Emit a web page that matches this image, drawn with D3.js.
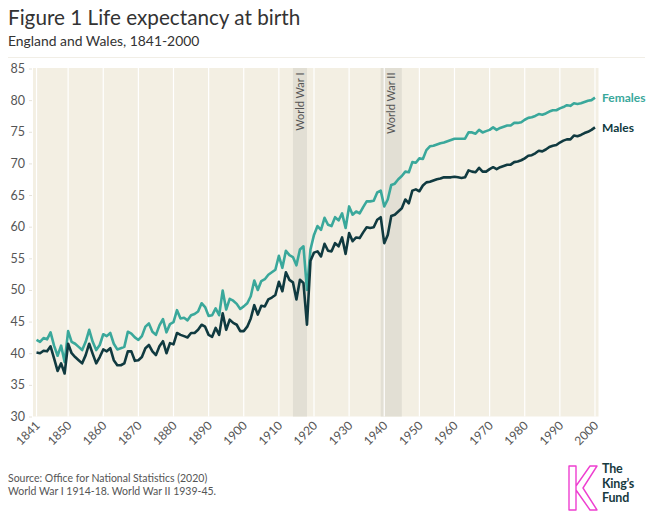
<!DOCTYPE html>
<html>
<head>
<meta charset="utf-8">
<script src="https://cdn.jsdelivr.net/npm/d3@7"></script>
<style>
  body { margin: 0; background: #fff; }
  svg text { font-family: Lato, "Open Sans", sans-serif; }
</style>
</head>
<body>
<div id="chart"></div>
<script>
// years 1841..2000, one value per year
var years = d3.range(1841, 2001);

var females = [
  42.1, 41.8, 42.4, 42.2, 43.3, 41.2, 39.6, 41.2, 38.6, 43.5,
  41.8, 41.5, 41.0, 40.5, 41.8, 43.7, 41.8, 40.5, 41.3, 43.0,
  42.7, 43.2, 41.5, 40.6, 40.8, 41.0, 43.4, 43.1, 42.5, 42.1,
  42.7, 44.2, 44.7, 43.4, 42.9, 44.4, 45.4, 43.3, 44.6, 44.9,
  46.8, 45.5, 45.6, 45.2, 46.0, 46.2, 46.6, 47.9, 47.3, 45.9,
  46.0, 47.1, 46.0, 49.9, 46.9, 48.6, 48.3, 47.8, 47.0, 47.4,
  47.9, 49.0, 51.5, 50.0, 51.4, 51.7, 52.4, 52.8, 53.2, 55.4,
  53.5, 56.2, 55.5, 55.2, 53.9, 56.4, 56.9, 50.0, 56.4, 58.7,
  60.1, 59.5, 61.4, 60.3, 60.1, 61.5, 61.0, 62.1, 59.8, 63.2,
  61.9, 62.4, 62.1, 63.1, 64.0, 64.0, 64.1, 65.4, 65.7, 63.2,
  64.3, 66.6, 66.8, 67.5, 68.0, 68.7, 68.6, 70.2, 70.1, 70.8,
  70.7, 72.1, 72.7, 72.8, 73.0, 73.2, 73.3, 73.5, 73.7, 73.9,
  73.9, 73.9, 73.9, 74.9, 74.9, 74.7, 75.3, 74.9, 75.1, 75.3,
  75.7, 75.3, 75.6, 75.8, 76.0, 76.0, 76.4, 76.4, 76.5, 76.9,
  77.2, 77.3, 77.5, 77.8, 77.7, 77.9, 78.2, 78.4, 78.4, 78.7,
  78.9, 79.2, 79.1, 79.5, 79.4, 79.5, 79.7, 79.9, 80.0, 80.4
];

var males = [
  40.1, 40.0, 40.4, 40.3, 41.1, 39.2, 37.2, 38.4, 36.8, 41.5,
  40.0, 39.4, 38.9, 38.4, 39.7, 41.5, 39.9, 38.4, 39.4, 40.6,
  40.3, 40.8, 38.9, 38.1, 38.1, 38.4, 40.3, 40.3, 38.8, 38.9,
  39.4, 40.8, 41.3, 40.3, 39.7, 41.1, 41.9, 40.0, 41.6, 41.4,
  43.2, 42.9, 42.7, 42.5, 43.2, 43.2, 43.7, 44.5, 44.2, 42.9,
  42.6, 44.0, 42.9, 46.3, 43.7, 45.3, 44.8, 44.5, 43.5, 43.5,
  44.2, 45.5, 47.6, 46.1, 47.5, 47.4, 48.5, 48.8, 49.2, 51.3,
  49.8, 52.8, 51.6, 51.2, 48.5, 51.6, 51.1, 44.5, 54.6, 55.9,
  56.1, 55.3, 57.3, 56.2, 56.1, 57.4, 56.9, 58.3, 55.7, 59.0,
  57.7, 58.3, 58.2, 59.1, 59.9, 59.8, 59.9, 61.1, 61.5, 57.4,
  58.7, 61.7, 61.9, 62.4, 62.9, 64.3, 63.7, 65.7, 65.9, 65.6,
  66.5, 67.0, 67.1, 67.3, 67.5, 67.6, 67.8, 67.8, 67.8, 67.9,
  67.8, 67.7, 67.8, 68.9, 68.7, 68.6, 69.3, 68.7, 68.7, 69.1,
  69.4, 69.1, 69.4, 69.6, 69.8, 69.8, 70.2, 70.3, 70.5, 70.8,
  71.2, 71.3, 71.6, 72.0, 71.9, 72.2, 72.6, 72.8, 72.9, 73.3,
  73.6, 73.8, 73.8, 74.4, 74.3, 74.5, 74.8, 75.0, 75.3, 75.7
];

var xTicks = [1841, 1850, 1860, 1870, 1880, 1890, 1900, 1910, 1920, 1930, 1940, 1950, 1960, 1970, 1980, 1990, 2000];
var yTicks = [30, 35, 40, 45, 50, 55, 60, 65, 70, 75, 80, 85];

var wars = [
  { label: "World War I", start: 1914, end: 1918 },
  { label: "World War II", start: 1939, end: 1945 }
];

var seriesNames = ["Females", "Males"];
var seriesColors = ["#3aa89b", "#103a40"];

var svgWidth = 652;
var svgHeight = 527;

var svg = d3.select("#chart")
  .append("svg")
  .attr("width", svgWidth)
  .attr("height", svgHeight);

// titles
svg.append("text")
  .attr("x", 8).attr("y", 25)
  .attr("font-size", "20.7px")
  .attr("fill", "#333")
  .text("Figure 1 Life expectancy at birth");

svg.append("text")
  .attr("x", 8).attr("y", 46)
  .attr("font-size", "13.9px")
  .attr("fill", "#333")
  .text("England and Wales, 1841-2000");

svg.append("line")
  .attr("x1", 8).attr("x2", 645)
  .attr("y1", 57.5).attr("y2", 57.5)
  .attr("stroke", "#f1eee6");

// scales
var x = d3.scaleLinear().domain([1840, 2001]).range([33, 598.5]);
var y = d3.scaleLinear().domain([30, 85]).range([416.5, 68.5]);

var plot = svg.append("g");

// background panel
plot.append("rect")
  .attr("x", x(1840)).attr("y", y(85) - 0.5)
  .attr("width", x(2001) - x(1840))
  .attr("height", y(30) - y(85) + 0.5)
  .attr("fill", "#f3efe3");

// war bands
plot.selectAll(".war")
  .data(wars)
  .enter()
  .append("rect")
  .attr("class", "war")
  .attr("x", d => x(d.start))
  .attr("width", d => x(d.end) - x(d.start))
  .attr("y", y(85) - 0.5)
  .attr("height", y(30) - y(85) + 0.5)
  .attr("fill", "#e2dfd4");

// vertical gridlines
plot.selectAll(".grid")
  .data(xTicks)
  .enter()
  .append("line")
  .attr("x1", d => x(d)).attr("x2", d => x(d))
  .attr("y1", y(85) - 0.5).attr("y2", y(30))
  .attr("stroke", "#ffffff")
  .attr("stroke-width", 1.2);

// war labels
plot.selectAll(".warText")
  .data(wars)
  .enter()
  .append("text")
  .attr("transform", d => `translate(${(x(d.start) + x(d.end)) / 2 + 4}, ${y(85) + 4}) rotate(-90)`)
  .attr("text-anchor", "end")
  .attr("font-size", "11px")
  .attr("fill", "#555")
  .text(d => d.label);

// y axis
var leftAxis = d3.axisLeft(y).tickValues(yTicks).tickSize(3).tickPadding(4);
var yAxis = svg.append("g")
  .attr("transform", `translate(${x(1840) - 1}, 0)`)
  .call(leftAxis);
yAxis.select(".domain").remove();
yAxis.selectAll("line").attr("stroke", "#e6e3da");
yAxis.selectAll("text")
  .attr("font-size", "12.5px")
  .attr("fill", "#555");

// x axis labels
var bottomAxis = d3.axisBottom(x).tickValues(xTicks).tickFormat(d3.format("d")).tickSize(0).tickPadding(0);
var xAxis = svg.append("g")
  .attr("transform", `translate(0, ${y(30)})`)
  .call(bottomAxis);
xAxis.select(".domain").remove();
xAxis.selectAll("text")
  .attr("transform", "translate(1, 7) rotate(-45)")
  .attr("dy", "0.32em")
  .attr("text-anchor", "end")
  .attr("font-size", "12px")
  .attr("fill", "#555");

// lines
var series = [females, males];
var line = d3.line()
  .x((d, i) => x(years[i]))
  .y(d => y(d));

plot.selectAll(".series")
  .data(series)
  .enter()
  .append("path")
  .attr("d", d => line(d))
  .attr("fill", "none")
  .attr("stroke", (d, i) => seriesColors[i])
  .attr("stroke-width", 2.6)
  .attr("stroke-linejoin", "round");

// end labels
plot.selectAll(".endLabel")
  .data(series)
  .enter()
  .append("text")
  .attr("x", x(2000) + 7)
  .attr("y", d => y(d[d.length - 1]))
  .attr("dy", "0.35em")
  .attr("font-size", "12px")
  .attr("font-weight", "bold")
  .attr("fill", (d, i) => seriesColors[i])
  .text((d, i) => seriesNames[i]);

// notes
svg.append("text")
  .attr("x", 8).attr("y", 482)
  .attr("font-size", "10.5px")
  .attr("fill", "#555")
  .text("Source: Office for National Statistics (2020)");

svg.append("text")
  .attr("x", 8).attr("y", 495)
  .attr("font-size", "10.5px")
  .attr("fill", "#555")
  .text("World War I 1914-18. World War II 1939-45.");

// logo
var logo = svg.append("g").attr("transform", "translate(569, 466)");
logo.append("path")
  .attr("d", "M0,0 H7 V44 H0 Z M7,20 L21,0 H28 L14,22 L28,44 H21 L7,24")
  .attr("fill", "none")
  .attr("stroke", "#ee3fd0")
  .attr("stroke-width", 1.4)
  .attr("stroke-linejoin", "round");

["The", "King\u2019s", "Fund"].forEach(function(t, i) {
  svg.append("text")
    .attr("x", 602).attr("y", 473 + i * 14.5)
    .attr("font-size", "12.5px")
    .attr("font-weight", "bold")
    .attr("fill", "#173a3f")
    .attr("letter-spacing", "-0.2px")
    .text(t);
});
</script>
</body>
</html>
